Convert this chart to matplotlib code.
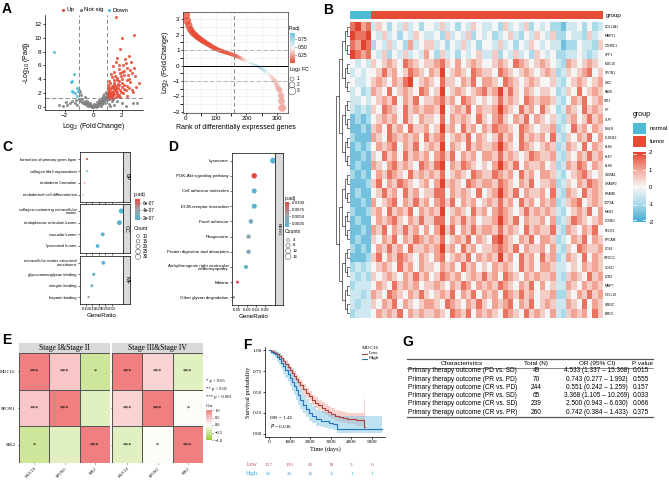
import numpy as np
import matplotlib
matplotlib.use("Agg")
import matplotlib.pyplot as plt
from matplotlib.colors import LinearSegmentedColormap, ListedColormap, Normalize
from matplotlib.cm import ScalarMappable
from matplotlib.patches import Rectangle
from matplotlib.transforms import blended_transform_factory

plt.rcParams["font.family"] = ["Liberation Sans", "DejaVu Sans"]
plt.rcParams["axes.linewidth"] = 0.5
SERIF = ["Liberation Serif", "DejaVu Serif"]

RED = "#E64B35"
BLUE = "#4DBBD5"
GREY = "#808080"

# ---------------- data ----------------
# A: volcano
volc_lfc = [1.62, 2.85, 2.0, 1.9, 1.7, 2.5, 2.3, 1.6, 2.1, 1.4, 2.9, 2.6, 1.8, 2.2, 1.5, 1.25, 2.75, 3.2,
            2.45, 1.95, 1.35, 1.65, 2.05, 2.35, 1.15, 1.85, 2.6, 1.45, 1.75, 2.2, 1.05, 1.3, 2.0, 2.5,
            1.55, 1.2, 1.9, 2.3, 1.1, 1.4, 1.65, 2.1, 1.02, 1.25, 1.5, 1.8, 1.08, 1.35, 1.15, 1.6, 1.9,
            1.03, 2.4, 2.8, 3.0, 2.7, 1.45, 1.9, 2.4, 2.15, 1.7, 1.2, 1.5, 1.05, 1.3, 1.1, 1.75, 2.05,
            2.55, 1.6, 1.38, 1.22, 2.95, 2.65, 1.85, 2.25,
            1.12, 1.28, 1.42, 1.58, 1.72, 1.33, 1.18, 1.48, 1.62, 1.95, 2.15, 1.07, 1.27, 1.82, 2.35,
            1.55, 2.0, 1.4, 1.1, 1.68,
            -2.75, -1.35, -1.45, -1.55, -1.5, -1.4, -1.1, -1.0, -1.05, -1.25, -1.15,
            -1.5, -1.8, -2.1, -1.3, -1.2, -1.0, -0.9, -0.85, -0.95, -0.8, -0.75, -0.7, -0.6, -0.55,
            -0.5, -0.45, -0.4, -0.35, -0.3, -0.25, -0.2, -0.15, -0.1, -0.05, 0.0, 0.05, 0.1, 0.15, 0.2,
            0.25, 0.3, 0.35, 0.4, 0.45, 0.5, 0.55, 0.6, 0.65, 0.7, 0.75, 0.8, 0.85, 0.9, 0.95, 0.98,
            0.9, 0.7, 0.6, 0.8, 0.45, 0.3, -0.6, 1.1, 1.3, 1.5, 1.7, 2.0, 2.3, 2.8, 3.1, 1.2, -1.6,
            -2.4, -1.9, 0.2, -0.2, 0.1, 0.55, -0.45, 0.85, 1.0, 1.15, 1.4, -1.1,
            -0.65, -0.35, 0.15, 0.35, 0.6, 0.75, -0.15, 0.0, 0.4, 0.65]
volc_logp = [13.0, 10.4, 9.9, 8.4, 7.1, 7.4, 6.3, 6.5, 6.0, 5.9, 5.6, 5.3, 5.5, 5.2, 5.0, 4.8, 4.9, 3.5,
             4.6, 4.5, 4.3, 4.2, 4.1, 3.9, 3.8, 3.7, 3.6, 3.5, 3.3, 3.2, 3.1, 3.0, 2.9, 2.8,
             2.7, 2.6, 2.5, 2.4, 2.3, 2.2, 2.1, 2.0, 2.0, 1.9, 1.8, 1.75, 1.7, 1.6, 1.5, 1.45, 1.4,
             1.4, 1.6, 2.2, 2.9, 2.5, 3.9, 4.9, 5.6, 4.6, 3.9, 3.4, 2.4, 2.6, 2.2, 1.85, 2.8, 3.5,
             4.1, 3.0, 1.35, 1.35, 4.4, 6.5, 6.1, 7.0,
             1.55, 2.05, 1.75, 2.3, 1.55, 2.75, 2.15, 3.2, 2.55, 2.15, 2.65, 1.95, 1.45, 3.1, 3.0,
             4.5, 5.0, 2.95, 2.9, 1.85,
             7.9, 4.8, 3.8, 3.6, 2.3, 2.1, 2.7, 2.5, 2.25, 2.0, 1.6,
             0.8, 0.3, 0.2, 0.6, 1.0, 1.1, 0.9, 1.7, 2.1, 0.7, 1.2, 0.5, 0.8, 0.4,
             0.6, 0.3, 0.5, 0.2, 0.35, 0.15, 0.25, 0.1, 0.05, 0.12, 0.03, 0.08, 0.15, 0.1, 0.25,
             0.3, 0.2, 0.45, 0.35, 0.6, 0.5, 0.8, 0.7, 1.0, 0.9, 1.2, 1.1, 1.4, 1.3, 1.6, 1.9,
             2.2, 1.6, 1.35, 1.8, 1.0, 0.7, 1.4, 0.4, 0.9, 0.3, 0.8, 0.5, 0.2, 0.5, 0.6, 0.15, 0.5,
             0.3, 0.7, 0.05, 0.55, 0.4, 0.2, 0.9, 0.6, 1.0, 1.2, 1.1, 0.3,
             0.6, 0.5, 0.3, 0.15, 0.45, 0.8, 0.3, 0.2, 0.8, 0.55]

# A: ranked fold changes
rank_pos = [0, 5, 10, 15, 20, 25, 30, 35, 40, 45, 50, 55, 60, 65, 70, 75, 80, 85, 90, 95,
            100, 105, 110, 115, 120, 125, 130, 135, 140, 145, 150, 155, 160, 165, 170, 175, 180,
            185, 190, 195, 200, 205, 210, 215, 220, 225, 230, 235, 240, 245, 250, 255, 260, 265,
            270, 275, 280, 285, 290, 295, 300, 305, 310, 314, 316, 318]
rank_lfc = [3.28, 2.90, 2.60, 2.35, 2.20, 2.08, 2.00, 1.90, 1.82, 1.75, 1.68, 1.61, 1.55, 1.48,
            1.42, 1.36, 1.30, 1.24, 1.18, 1.13, 1.08, 1.04, 1.00, 0.96, 0.93, 0.90, 0.86, 0.83,
            0.80, 0.76, 0.73, 0.70, 0.67, 0.62, 0.58, 0.53, 0.48, 0.43, 0.38, 0.32, 0.27, 0.22,
            0.18, 0.14, 0.10, 0.06, 0.02, -0.03, -0.08, -0.14, -0.20, -0.26, -0.33, -0.41, -0.50,
            -0.58, -0.68, -0.80, -0.92, -1.05, -1.28, -1.48, -1.60, -1.95, -2.30, -2.75]
rank_padj = [0.0, 0.0, 0.0, 0.0, 0.0, 0.0, 0.0, 0.0, 0.0, 0.0, 0.0, 0.0, 0.0, 0.0, 0.01, 0.01,
             0.01, 0.01, 0.01, 0.01, 0.01, 0.02, 0.02, 0.02, 0.02, 0.03, 0.03, 0.03, 0.04, 0.04,
             0.05, 0.05, 0.06, 0.07, 0.08, 0.12, 0.18, 0.25, 0.32, 0.38, 0.43, 0.48, 0.52, 0.56,
             0.60, 0.65, 0.70, 0.74, 0.78, 0.80, 0.78, 0.74, 0.68, 0.60, 0.52, 0.45, 0.40, 0.36,
             0.33, 0.30, 0.28, 0.26, 0.25, 0.23, 0.22, 0.20]

# B: heatmap (digit 0..8 -> -2..2)
sample_groups = ["normal"] * 4 + ["tumor"] * 44
heat_rows = [
    "7867 35424353424 43534243543 34253435243 42213342423",
    "8778 43534243543 34253435243 42345324354 35224332534",
    "7687 24353426345 53424353424 43534243543 43312243325",
    "8767 43524353436 42534243453 35243534254 34223343234",
    "4343 54565476545 56754645654 45654765456 54326545654",
    "3434 45756457654 65845654765 54765456545 65235456745",
    "4334 56546578456 54755465746 65476545654 45324565456",
    "3423 65474565476 45845654567 56857546545 54235474565",
    "3343 45657465745 56756476545 45756547656 65324657456",
    "3232 54765475656 65845657465 56865475647 54236547565",
    "1212 45656475465 54746565475 46754657465 45325645756",
    "1121 56475647556 45856475646 57665476545 56234756465",
    "2111 65476565647 56745657465 45756475656 47325465746",
    "1212 46567465745 65846547565 56865476545 65236547465",
    "1121 54756475656 46757465646 65756545765 56325465756",
    "1211 65467565476 57846576545 46865746556 45236576465",
    "2121 46576547565 65745654765 57656475646 65324567545",
    "1112 57465765456 46856547656 65765465745 56235465765",
    "1211 45756475645 57746565474 56865746556 47326547565",
    "1121 64567465756 46757465645 65756475646 56235674565",
    "2112 56475657465 65845654756 46765457565 65324565746",
    "1211 46567546575 57746575645 56865746556 46235765456",
    "1121 65746575646 46857465756 65756547565 57326546574",
    "1211 54657465765 65745657465 47865465746 65234657465",
    "2121 46575647556 56856475645 56765746556 46325476556",
    "1112 57465765465 46745657465 65856475647 56236547465",
    "2323 45654756465 54656475645 46565475646 65334546565",
    "3232 54565465756 45765645657 56476546565 56325654756",
    "2333 46547565645 56546576465 65765465746 45336546565",
    "3323 65476546575 45657465746 56476575645 56225465756",
    "3233 54657465456 65476546575 46567465745 65336547465",
    "2333 46565746565 56547657465 65476547565 46325656475",
]
heat_genes = ["COL11A1", "MMP11", "CTHRC1", "SPP1", "MUC16", "SPON1", "SIK2", "PAX8", "WT1",
              "CP", "SLPI", "MSLN", "CLDN16", "KLK6", "KLK7", "KLK8", "S100A1", "CRABP2",
              "PRAME", "TOP2A", "MKI67", "CCNE1", "FOLR1", "EPCAM", "CD24", "WFDC2", "SOX17",
              "LCN2", "MMP7", "CXCL10", "UBE2C", "BIRC5"]

# C: GO enrichment
go_terms = {
    "BP": ["formation of primary germ layer", "collagen fibril organization",
           "endoderm formation", "endodermal cell differentiation"],
    "CC": ["collagen-containing extracellular\nmatrix", "endoplasmic reticulum lumen",
           "vacuolar lumen", "lysosomal lumen"],
    "MF": ["extracellular matrix structural\nconstituent", "glycosaminoglycan binding",
           "integrin binding", "heparin binding"],
}
go_ratio = {"BP": [0.108, 0.108, 0.09, 0.078], "CC": [0.375, 0.36, 0.23, 0.19],
            "MF": [0.235, 0.16, 0.145, 0.12]}
go_count = {"BP": [5, 4, 2, 2], "CC": [30, 28, 18, 16], "MF": [17, 12, 10, 7]}
go_padj = {"BP": [6.9e-07, 1.8e-07, 6.5e-07, 4.5e-07], "CC": [1.5e-07, 1.5e-07, 1.5e-07, 1.5e-07],
           "MF": [1.5e-07, 2.0e-07, 2.2e-07, 4.0e-07]}

# D: KEGG enrichment
kegg_terms = ["Lysosome", "PI3K-Akt signaling pathway", "Cell adhesion molecules",
              "ECM-receptor interaction", "Focal adhesion", "Phagosome",
              "Protein digestion and absorption",
              "Arrhythmogenic right ventricular\ncardiomyopathy", "Malaria",
              "Other glycan degradation"]
kegg_ratio = [0.243, 0.141, 0.141, 0.141, 0.123, 0.11, 0.11, 0.096, 0.05, 0.03]
kegg_count = [16, 14, 12, 12, 10, 9, 9, 8, 4, 3]
kegg_padj = [0.0012, 0.0102, 0.0015, 0.0015, 0.0035, 0.0045, 0.0042, 0.002, 0.0103, 0.0065]

# E: correlation
cor_genes = ["MUC16", "SPON1", "SIK2"]
stage_names = ["Stage I&Stage II", "Stage III&Stage IV"]
cor_early = [[1.0, 0.45, -0.5], [0.45, 1.0, -0.3], [-0.5, -0.3, 1.0]]
cor_late = [[1.0, 0.35, -0.3], [0.35, 1.0, -0.05], [-0.3, -0.05, 1.0]]
sig_early = [["***", "***", "*"], ["***", "***", ""], ["*", "", "***"]]
sig_late = [["***", "***", "***"], ["***", "***", "*"], ["***", "*", "***"]]

# F: Kaplan-Meier
low_t = [0, 100, 200, 300, 400, 500, 600, 700, 800, 900, 1000, 1100, 1200, 1300, 1400, 1500,
         1650, 1800, 1950, 2100, 2250, 2400, 2550, 2700, 2850, 3000, 3200, 3400, 3600, 3800,
         4000, 4200, 4600, 4650]
low_s = [1.0, 0.99, 0.98, 0.97, 0.95, 0.93, 0.9, 0.87, 0.83, 0.8, 0.76, 0.73, 0.69, 0.66, 0.62,
         0.58, 0.53, 0.49, 0.45, 0.41, 0.37, 0.34, 0.31, 0.29, 0.26, 0.24, 0.22, 0.2, 0.19, 0.18,
         0.18, 0.17, 0.08, 0.08]
low_lo = [1.0, 0.98, 0.96, 0.95, 0.92, 0.9, 0.86, 0.83, 0.79, 0.75, 0.71, 0.68, 0.64, 0.6, 0.56,
          0.52, 0.47, 0.43, 0.39, 0.35, 0.31, 0.28, 0.25, 0.23, 0.2, 0.18, 0.16, 0.14, 0.13, 0.12,
          0.12, 0.1, 0.03, 0.03]
low_hi = [1.0, 1.0, 1.0, 0.99, 0.98, 0.96, 0.94, 0.91, 0.88, 0.85, 0.81, 0.78, 0.75, 0.72, 0.68,
          0.64, 0.59, 0.55, 0.51, 0.47, 0.44, 0.41, 0.38, 0.36, 0.33, 0.31, 0.29, 0.27, 0.26, 0.25,
          0.25, 0.25, 0.42, 0.42]
high_t = [0, 100, 200, 300, 400, 500, 600, 700, 800, 900, 1000, 1100, 1200, 1300, 1400, 1500,
          1650, 1800, 1950, 2100, 2300, 2500, 2700, 2900, 3100, 3300, 5500]
high_s = [1.0, 0.98, 0.97, 0.95, 0.92, 0.89, 0.85, 0.81, 0.76, 0.72, 0.67, 0.62, 0.57, 0.52,
          0.46, 0.41, 0.35, 0.3, 0.25, 0.21, 0.18, 0.16, 0.15, 0.13, 0.12, 0.06, 0.06]
high_lo = [1.0, 0.95, 0.93, 0.9, 0.86, 0.82, 0.77, 0.72, 0.67, 0.62, 0.57, 0.51, 0.46, 0.41,
           0.35, 0.3, 0.25, 0.2, 0.16, 0.13, 0.1, 0.08, 0.07, 0.06, 0.05, 0.01, 0.01]
high_hi = [1.0, 1.0, 1.0, 1.0, 0.98, 0.96, 0.93, 0.9, 0.86, 0.82, 0.78, 0.74, 0.69, 0.64, 0.58,
           0.53, 0.47, 0.42, 0.37, 0.33, 0.29, 0.27, 0.26, 0.24, 0.23, 0.21, 0.21]
risk_times = [0, 1000, 2000, 3000, 4000, 5000]
risk_low = [257, 139, 45, 18, 3, 0]
risk_high = [96, 43, 16, 4, 1, 1]

# G: logistic regression table
tab_header = ["Characteristics", "Total (N)", "OR (95% CI)", "P value"]
tab_char = ["Primary therapy outcome (PD vs. SD)", "Primary therapy outcome (PR vs. PD)",
            "Primary therapy outcome (CR vs. PD)", "Primary therapy outcome (PR vs. SD)",
            "Primary therapy outcome (CR vs. SD)", "Primary therapy outcome (CR vs. PR)"]
tab_n = [49, 70, 244, 65, 239, 260]
tab_or = ["4.533 (1.337 – 15.368)", "0.743 (0.277 – 1.992)", "0.551 (0.242 – 1.259)",
          "3.368 (1.105 – 10.269)", "2.500 (0.943 – 6.630)", "0.742 (0.384 – 1.433)"]
tab_p = ["0.015", "0.555", "0.157", "0.033", "0.066", "0.375"]

# ---------------- layout helpers ----------------
W, H = 669, 480
fig = plt.figure(figsize=(6.69, 4.80), dpi=100)


def px_axes(x0, y0, x1, y1):
    return fig.add_axes([x0 / W, 1 - y1 / H, (x1 - x0) / W, (y1 - y0) / H])


def style(ax, fs=4.5, classic=True):
    if classic:
        ax.spines["top"].set_visible(False)
        ax.spines["right"].set_visible(False)
    ax.tick_params(labelsize=fs, length=1.5, width=0.5, pad=1)


def cbar(rect, cmap, norm, ticks, labels, fs=3.5, family=None):
    cax = px_axes(*rect)
    cb = fig.colorbar(ScalarMappable(norm=norm, cmap=cmap), cax=cax)
    cb.set_ticks(ticks)
    cb.set_ticklabels(labels)
    cb.outline.set_visible(False)
    cax.tick_params(labelsize=fs, length=1, width=0.4, pad=1)
    if family:
        for t in cax.get_yticklabels():
            t.set_family(family)
    return cax


ov = px_axes(0, 0, W, H)
ov.set_xlim(0, W)
ov.set_ylim(H, 0)
ov.axis("off")
ov.set_zorder(10)

for letter, x, y in [("A", 2, 2), ("B", 323, 3), ("C", 2, 140), ("D", 168, 140),
                     ("E", 2, 333), ("F", 243, 338), ("G", 402, 335)]:
    ov.text(x, y, letter, fontsize=10, fontweight="bold", va="top", ha="left")

# ---------------- A: volcano ----------------
axA = px_axes(45, 15, 143, 110)
lfc = np.array(volc_lfc)
lp = np.array(volc_logp)
up = (lfc > 1) & (lp > 1.3)
down = (lfc < -1) & (lp > 1.3)
ns = ~(up | down)
for m, col in [(ns, GREY), (up, RED), (down, BLUE)]:
    axA.scatter(lfc[m], lp[m], s=5, c=col, lw=0, alpha=0.85)
for v in (-1, 1):
    axA.axvline(v, color="#777777", ls=(0, (5, 3)), lw=0.6)
axA.axhline(1.3, color="#777777", ls=(0, (5, 3)), lw=0.6)
axA.set_xlim(-3.37, 3.5)
axA.set_ylim(-0.45, 13.3)
axA.set_xticks([-2, 0, 2])
axA.set_yticks(range(0, 13, 2))
style(axA)
axA.set_xlabel("Log$_2$ (Fold Change)", fontsize=5, labelpad=1.5)
axA.set_ylabel("-Log$_{10}$ (Padj)", fontsize=5, labelpad=1.5)
for xm, lab, col in [(63, "Up", RED), (81, "Not sig", GREY), (109, "Down", BLUE)]:
    ov.scatter([xm], [10], s=5, c=col, lw=0)
    ov.text(xm + 3.5, 10, lab, fontsize=4.5, va="center")

# ---------------- A: ranked fold changes ----------------
axR = px_axes(183, 12, 288, 113)
rank_cmap = LinearSegmentedColormap.from_list("padj", [RED, "#F7F7F7", "#6CC4DC"])
rank_norm = Normalize(0, 0.95)
axR.set_axisbelow(True)
axR.set_xticks([0, 100, 200, 300])
axR.set_xticks([50, 150, 250], minor=True)
axR.set_yticks(range(-3, 4))
axR.set_yticks(np.arange(-2.5, 3, 1), minor=True)
axR.grid(True, which="both", color="#EBEBEB", lw=0.4)
axR.axhline(0, color="black", lw=0.7)
for v in (-1, 1):
    axR.axhline(v, color="#AAAAAA", ls=(0, (5, 3)), lw=0.6)
axR.axvline(160, color="#777777", ls=(0, (5, 3)), lw=0.6)
rl = np.array(rank_lfc)
axR.scatter(rank_pos, rl, s=(1.6 + 1.3 * np.abs(rl)) ** 2, c=rank_padj, cmap=rank_cmap,
            norm=rank_norm, alpha=0.75, lw=0.3, edgecolors="face")
axR.set_xlim(-9, 337)
axR.set_ylim(-3.08, 3.47)
style(axR, classic=False)
for s in axR.spines.values():
    s.set_color("#333333")
axR.set_xlabel("Rank of differentially expressed genes", fontsize=5, labelpad=1.5)
axR.set_ylabel("Log$_2$ (Fold Change)", fontsize=5, labelpad=1)
ov.text(289, 30, "P.adj", fontsize=3.8)
cbar((290, 33, 295, 63), rank_cmap, rank_norm, [0.25, 0.5, 0.75], ["0.25", "0.50", "0.75"])
ov.text(289, 71, "Log$_2$ FC", fontsize=3.8)
for i, v in enumerate([1, 2, 3]):
    ov.scatter([292], [79 + 6 * i], s=(1.6 + 1.3 * v) ** 2, facecolors="none",
               edgecolors="#555555", lw=0.4)
    ov.text(297, 79 + 6 * i, str(v), fontsize=3.5, va="center")

# ---------------- B: heatmap ----------------
heat_mat = np.array([[(int(c) - 4) / 2 for c in r.replace(" ", "")] for r in heat_rows])
nr, nc = heat_mat.shape
heat_cmap = LinearSegmentedColormap.from_list(
    "heat", ["#3FA9D0", "#A8DAEA", "#F6F6F6", "#F2A696", "#E2432E"])
axAnn = px_axes(350, 11, 603, 19)
grp_idx = np.array([[0 if g == "normal" else 1 for g in sample_groups]])
axAnn.imshow(grp_idx, cmap=ListedColormap([BLUE, RED]), aspect="auto", interpolation="nearest")
axAnn.axis("off")
ov.text(606, 15.5, "group", fontsize=4.5, va="center")

axH = px_axes(350, 22, 603, 318)
axH.imshow(heat_mat, cmap=heat_cmap, vmin=-2, vmax=2, aspect="auto", interpolation="nearest")
axH.set_xticks([])
axH.yaxis.tick_right()
axH.set_yticks(range(nr))
axH.set_yticklabels(heat_genes[:nr], fontsize=2.3)
axH.tick_params(length=0, pad=1)
for s in axH.spines.values():
    s.set_visible(False)

axD = px_axes(336, 22, 350, 318)


def dendro(ax, lo, hi):
    if hi - lo == 1:
        return lo, 0.0
    mid = (lo + hi) // 2
    c1, h1 = dendro(ax, lo, mid)
    c2, h2 = dendro(ax, mid, hi)
    h = max(h1, h2) + 1
    ax.plot([h1, h, h, h2], [c1, c1, c2, c2], color="black", lw=0.4)
    return (c1 + c2) / 2, h


_, top_h = dendro(axD, 0, nr)
axD.set_xlim(top_h + 0.1, 0)
axD.set_ylim(nr - 0.5, -0.5)
axD.axis("off")

ov.text(633, 114, "group", fontsize=5, va="center")
ov.add_patch(Rectangle((633, 123), 13, 11, color=BLUE, lw=0))
ov.add_patch(Rectangle((633, 136), 13, 11, color=RED, lw=0))
ov.text(650, 128.5, "normal", fontsize=4.3, va="center")
ov.text(650, 141.5, "tumor", fontsize=4.3, va="center")
caxH = cbar((633, 152, 646, 222), heat_cmap, Normalize(-2, 2), [-2, -1, 0, 1, 2],
            ["-2", "-1", "0", "1", "2"], fs=4.3)
caxH.tick_params(length=0, pad=2)
for v in [-1.9, -1, 0, 1, 1.9]:
    caxH.axhline(v, xmin=0, xmax=0.25, color="white", lw=0.6)
    caxH.axhline(v, xmin=0.75, xmax=1, color="white", lw=0.6)

# ---------------- C: GO dot plot ----------------
go_cmap = LinearSegmentedColormap.from_list("go", ["#56B4D3", "#A0A0A8", "#E8473A"])
go_norm = Normalize(1.4e-07, 7.1e-07)
facet_rows = [("BP", 152, 202), ("CC", 204, 253), ("MF", 256, 304)]
for k, (ont, y0, y1) in enumerate(facet_rows):
    ax = px_axes(80, y0, 123, y1)
    ax.scatter(go_ratio[ont], range(4), s=np.array(go_count[ont]) * 0.45,
               c=go_padj[ont], cmap=go_cmap, norm=go_norm, lw=0)
    ax.set_ylim(3.6, -0.6)
    ax.set_yticks(range(4))
    ax.set_yticklabels(go_terms[ont], fontsize=3.4, linespacing=0.9)
    ax.set_xlim(0.053, 0.388)
    ax.set_xticks([0.10, 0.15, 0.20, 0.25, 0.30])
    ax.tick_params(labelsize=3.0, length=1.5, width=0.4, pad=1)
    if k < 2:
        ax.set_xticklabels([])
    else:
        ax.set_xlabel("GeneRatio", fontsize=4.5, labelpad=1)
    sax = px_axes(123, y0, 130, y1)
    sax.set_facecolor("#D9D9D9")
    sax.set_xticks([])
    sax.set_yticks([])
    sax.text(0.5, 0.5, ont, rotation=-90, fontsize=4, ha="center", va="center",
             transform=sax.transAxes)
ov.text(134, 196, "p.adj", fontsize=3.8)
cbar((135, 199, 140, 220), go_cmap, go_norm, [2e-07, 4e-07, 6e-07],
     ["2e-07", "4e-07", "6e-07"], fs=3.3)
ov.text(134, 230, "Count", fontsize=3.8)
for i, v in enumerate([10, 15, 20, 25, 30]):
    ov.scatter([138], [236 + 5.2 * i], s=v * 0.45, facecolors="none", edgecolors="#555555",
               lw=0.4)
    ov.text(143, 236 + 5.2 * i, str(v), fontsize=3.3, va="center")

# ---------------- D: KEGG dot plot ----------------
kegg_cmap = go_cmap
kegg_norm = Normalize(0.0011, 0.0103)
axK = px_axes(232, 153, 275, 305)
axK.scatter(kegg_ratio, range(len(kegg_terms)), s=np.array(kegg_count) * 1.1, c=kegg_padj,
            cmap=kegg_cmap, norm=kegg_norm, lw=0)
axK.set_ylim(len(kegg_terms) - 0.5, -0.5)
axK.set_yticks(range(len(kegg_terms)))
axK.set_yticklabels(kegg_terms, fontsize=3.4, linespacing=0.9)
axK.set_xlim(0.02, 0.254)
axK.set_xticks([0.05, 0.10, 0.15, 0.20])
axK.tick_params(labelsize=3.2, length=1.5, width=0.4, pad=1)
axK.set_xlabel("GeneRatio", fontsize=4.5, labelpad=1)
skx = px_axes(275, 153, 283, 305)
skx.set_facecolor("#D9D9D9")
skx.set_xticks([])
skx.set_yticks([])
skx.text(0.5, 0.5, "KEGG", rotation=-90, fontsize=3.2, ha="center", va="center",
         transform=skx.transAxes)
ov.text(285, 200, "p.adj", fontsize=3.6)
cbar((285, 202, 289, 227), kegg_cmap, kegg_norm, [0.0025, 0.005, 0.0075, 0.01],
     ["0.0025", "0.0050", "0.0075", "0.0100"], fs=3.2)
ov.text(285, 233, "Counts", fontsize=3.6)
for i, v in enumerate([4, 8, 12, 16]):
    ov.scatter([288], [240 + 5.5 * i], s=v * 1.1, facecolors="none", edgecolors="#555555",
               lw=0.4)
    ov.text(293, 240 + 5.5 * i, str(v), fontsize=3.2, va="center")

# ---------------- E: correlation tiles ----------------
cor_cmap = LinearSegmentedColormap.from_list("cor", ["#9ACD32", "#FFFFFF", "#F08080"])
for k, ((x0, x1), mat, sig) in enumerate(zip([(19, 110), (112, 203)],
                                             [cor_early, cor_late], [sig_early, sig_late])):
    ax = px_axes(x0, 353, x1, 463)
    ax.pcolormesh(np.arange(4), np.arange(4), np.array(mat), cmap=cor_cmap, vmin=-1, vmax=1,
                  edgecolors="#555555", linewidth=0.5)
    ax.set_xlim(0, 3)
    ax.set_ylim(3, 0)
    for i in range(3):
        for j in range(3):
            ax.text(j + 0.5, i + 0.5, sig[i][j], ha="center", va="center", fontsize=4.5,
                    family=SERIF)
    ax.set_xticks(np.arange(3) + 0.5)
    ax.set_xticklabels(cor_genes, rotation=45, ha="right", va="top", rotation_mode="anchor",
                       fontsize=3.1, family=SERIF)
    ax.set_yticks(np.arange(3) + 0.5)
    if k == 0:
        ax.set_yticklabels(cor_genes, fontsize=3.4, family=SERIF)
    else:
        ax.set_yticklabels([])
    ax.tick_params(length=1, width=0.4, pad=1.5)
    for s in ax.spines.values():
        s.set_visible(False)
    sax = px_axes(x0, 343, x1, 353)
    sax.set_facecolor("#D9D9D9")
    sax.set_xticks([])
    sax.set_yticks([])
    for s in sax.spines.values():
        s.set_visible(False)
    sax.text(0.5, 0.45, stage_names[k], fontsize=5.5, ha="center", va="center",
             family=SERIF, transform=sax.transAxes)
for i, lab in enumerate(["* p < 0.05", "** p < 0.01", "*** p < 0.001"]):
    ov.text(206, 381 + 8 * i, lab, fontsize=3.3, va="center", family=SERIF)
ov.text(206, 406, "Cor", fontsize=3.6, va="center", family=SERIF)
cbar((206, 410, 212, 440), cor_cmap, Normalize(-1, 1), [-1, -0.5, 0, 0.5, 1],
     ["\u22121.0", "\u22120.5", "0.0", "0.5", "1.0"], fs=3.2, family=SERIF)

# ---------------- F: Kaplan-Meier ----------------
LOW_C = "#A8443B"
HIGH_C = "#2874B8"
axF = px_axes(265, 347, 385, 437)
axF.fill_between(low_t, low_lo, low_hi, step="post", color="#F2ADA4", alpha=0.55, lw=0)
axF.fill_between(high_t, high_lo, high_hi, step="post", color="#7CC6E6", alpha=0.5, lw=0)
axF.step(low_t, low_s, where="post", color=LOW_C, lw=0.8)
axF.step(high_t, high_s, where="post", color=HIGH_C, lw=0.8)
axF.set_xlim(-194, 5630)
axF.set_ylim(-0.036, 1.036)
axF.set_xticks(risk_times)
axF.set_yticks([0, 0.25, 0.5, 0.75, 1.0])
axF.set_yticklabels(["0.00", "0.25", "0.50", "0.75", "1.00"])
style(axF, fs=3.8)
for t in axF.get_xticklabels() + axF.get_yticklabels():
    t.set_family(SERIF)
axF.set_xlabel("Time (days)", fontsize=4.6, family=SERIF, labelpad=1)
axF.set_ylabel("Survival probability", fontsize=4.6, family=SERIF, labelpad=1)
axF.text(0.04, 0.16, "HR = 1.45\n$P$ = 0.016", transform=axF.transAxes, fontsize=3.8,
         family=SERIF, va="center", linespacing=1.3)
ov.text(362, 348, "MUC16", fontsize=3.8, family=SERIF, va="center")
for i, (lab, col) in enumerate([("Low", LOW_C), ("High", HIGH_C)]):
    ov.plot([362, 367], [353.5 + 5 * i] * 2, color=col, lw=0.8)
    ov.text(369, 353.5 + 5 * i, lab, fontsize=3.8, family=SERIF, va="center")
tr = blended_transform_factory(axF.transData, ov.transData)
for yy, lab, vals, col in [(465, "Low", risk_low, "#C0504D"), (474, "High", risk_high, "#3FA7D6")]:
    ov.text(258, yy, lab, fontsize=4.3, family=SERIF, ha="right", va="center", color=col)
    for t, v in zip(risk_times, vals):
        ov.text(t, yy, str(v), fontsize=3.8, family=SERIF, ha="center", va="center",
                color=col, transform=tr)

# ---------------- G: table ----------------
tab_x0, tab_x1 = 407, 653
ov.plot([tab_x0, tab_x1], [359, 359], color="#555555", lw=0.9)
ov.plot([tab_x0, tab_x1], [367.5, 367.5], color="#555555", lw=0.5)
ov.plot([tab_x0, tab_x1], [416.5, 416.5], color="#555555", lw=0.9)
for x, lab in zip([462, 536, 597, 642], tab_header):
    ov.text(x, 363.3, lab, fontsize=4.6, ha="center", va="center")
for i in range(len(tab_char)):
    yy = 371 + 8.2 * i
    ov.text(408, yy, tab_char[i], fontsize=4.7, va="center")
    ov.text(536, yy, str(tab_n[i]), fontsize=4.7, ha="center", va="center")
    ov.text(597, yy, tab_or[i], fontsize=4.7, ha="center", va="center")
    ov.text(641, yy, tab_p[i], fontsize=4.7, ha="center", va="center")

fig.savefig("out.png", dpi=100)
